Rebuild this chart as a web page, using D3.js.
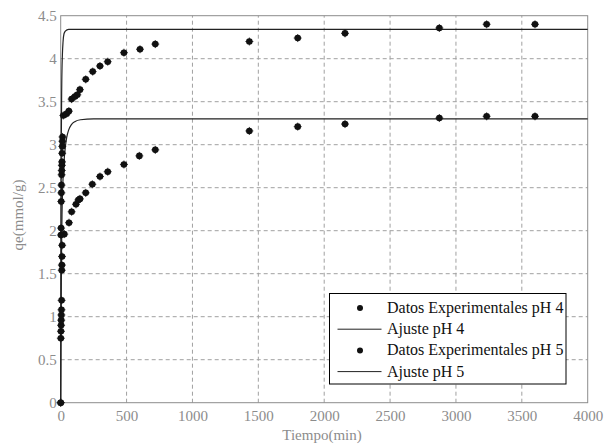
<!DOCTYPE html>
<html>
<head>
<meta charset="utf-8">
<script src="https://cdn.jsdelivr.net/npm/d3@7"></script>
<style>
  body { margin: 0; background: #fff; }
  svg { display: block; }
  svg text { font-family: "Liberation Serif", "Times New Roman", Times, "Nimbus Roman", "DejaVu Serif", serif !important; }
</style>
</head>
<body>
<div id="chart"></div>
<script>
// experimental data, [time (min), qe (mmol/g)]
const datosPH4 = [
  [0, 0], [2, 1.95], [3, 2.03], [4, 2.34], [5, 2.44], [6, 2.53], [7, 2.65],
  [8, 2.7], [9, 2.76], [10, 2.8], [11, 2.9], [12, 2.98], [13, 3.04], [14, 3.09],
  [20, 3.34], [45, 3.36], [62, 3.39], [83, 3.53], [108, 3.56], [126, 3.58],
  [146, 3.64], [190, 3.76], [243, 3.85], [298, 3.915], [357, 3.965],
  [480, 4.07], [602, 4.11], [718, 4.17],
  [1432, 4.2], [1799, 4.24], [2158, 4.295], [2874, 4.357], [3233, 4.4], [3600, 4.4]
];
const datosPH5 = [
  [0, 0], [1, 0.75], [2, 0.83], [3, 0.9], [4, 0.96], [5, 1.02], [6, 1.08],
  [7, 1.19], [8, 1.54], [9, 1.6], [10, 1.7], [11, 1.83],
  [27, 1.96], [63, 2.093], [83, 2.22], [116, 2.307], [134, 2.357], [146, 2.37],
  [190, 2.44], [240, 2.54], [298, 2.63], [357, 2.686], [480, 2.77],
  [597, 2.87], [718, 2.94],
  [1432, 3.16], [1799, 3.21], [2158, 3.24], [2874, 3.31], [3233, 3.33], [3600, 3.33]
];
// fitted curves
const ajustePH4 = [
  [0, 0], [2, 1.8], [4, 2.9], [8, 3.7], [13, 4.05], [18, 4.2], [25, 4.29],
  [35, 4.32], [60, 4.34], [4000, 4.34]
];
const ajustePH5 = [
  [0, 0], [3, 1.0], [6, 1.7], [10, 2.2], [15, 2.5], [25, 2.8], [35, 2.97],
  [45, 3.08], [60, 3.17], [80, 3.23], [110, 3.27], [150, 3.29], [250, 3.3], [4000, 3.3]
];
const xTicks = [0, 500, 1000, 1500, 2000, 2500, 3000, 3500, 4000];
const yTicks = [0, 0.5, 1, 1.5, 2, 2.5, 3, 3.5, 4, 4.5];
const legendLabels = [
  "Datos Experimentales pH 4", "Ajuste pH 4",
  "Datos Experimentales pH 5", "Ajuste pH 5"
];

const width = 610, height = 444;
const margin = { top: 15.7, right: 22.3, bottom: 41.3, left: 60.7 };

const svg = d3.select("#chart").append("svg")
  .attr("width", width)
  .attr("height", height);

const x = d3.scaleLinear().domain([0, 4000]).range([margin.left, width - margin.right]);
const y = d3.scaleLinear().domain([0, 4.5]).range([height - margin.bottom, margin.top]);

const grey = "#8c8c8c";

// grid
svg.append("g")
  .selectAll("line")
  .data(xTicks.slice(1, -1))
  .join("line")
  .attr("x1", d => x(d)).attr("x2", d => x(d))
  .attr("y1", y(0)).attr("y2", y(4.5))
  .attr("stroke", "#a0a0a0")
  .attr("stroke-dasharray", "4,3");

svg.append("g")
  .selectAll("line")
  .data(yTicks.slice(1, -1))
  .join("line")
  .attr("x1", x(0)).attr("x2", x(4000))
  .attr("y1", d => y(d)).attr("y2", d => y(d))
  .attr("stroke", "#a0a0a0")
  .attr("stroke-dasharray", "4,3");

// box
svg.append("rect")
  .attr("x", x(0)).attr("y", y(4.5))
  .attr("width", x(4000) - x(0))
  .attr("height", y(0) - y(4.5))
  .attr("fill", "none")
  .attr("stroke", grey);

// axes
const xAxis = svg.append("g")
  .attr("transform", `translate(0,${y(0)})`)
  .call(d3.axisBottom(x).tickValues(xTicks).tickSize(0).tickPadding(8).tickFormat(d3.format("d")));
const yAxis = svg.append("g")
  .attr("transform", `translate(${x(0)},0)`)
  .call(d3.axisLeft(y).tickValues(yTicks).tickSize(0).tickPadding(4).tickFormat(d => d));

[xAxis, yAxis].forEach(a => {
  a.select(".domain").remove();
  a.selectAll("text")
    .attr("fill", grey)
    .style("font-size", "15px");
});

// axis labels
svg.append("text")
  .attr("x", 322).attr("y", 440)
  .attr("text-anchor", "middle")
  .attr("fill", grey)
  .style("font-size", "15px")
  .text("Tiempo(min)");

svg.append("text")
  .attr("transform", "translate(23,215) rotate(-90)")
  .attr("text-anchor", "middle")
  .attr("fill", grey)
  .style("font-size", "15px")
  .text("qe(mmol/g)");

// fitted lines
const line = d3.line().x(d => x(d[0])).y(d => y(d[1])).curve(d3.curveMonotoneX);

[ajustePH4, ajustePH5].forEach(serie => {
  svg.append("path")
    .datum(serie)
    .attr("d", line)
    .attr("fill", "none")
    .attr("stroke", "#222")
    .attr("stroke-width", 1.2);
});

// markers: filled dot with small asterisk spikes
function marker(g, cx, cy) {
  g.append("circle").attr("cx", cx).attr("cy", cy).attr("r", 3.3).attr("fill", "#111");
  g.append("path")
    .attr("d", `M${cx - 4},${cy}h8M${cx},${cy - 4}v8`)
    .attr("stroke", "#111")
    .attr("stroke-width", 0.8);
}

const pts = svg.append("g");
[datosPH4, datosPH5].forEach(serie => {
  serie.forEach(d => marker(pts, x(d[0]), y(d[1])));
});

// legend
const lg = svg.append("g");
lg.append("rect")
  .attr("x", 329.5).attr("y", 293.5)
  .attr("width", 236.5).attr("height", 90.5)
  .attr("fill", "#fff")
  .attr("stroke", "#000");

legendLabels.forEach((label, i) => {
  const cy = 308 + i * 21.2;
  if (i % 2 === 0) {
    lg.append("circle").attr("cx", 360).attr("cy", cy).attr("r", 3).attr("fill", "#111");
  } else {
    lg.append("line")
      .attr("x1", 337.5).attr("x2", 381.5)
      .attr("y1", cy).attr("y2", cy)
      .attr("stroke", "#222");
  }
  lg.append("text")
    .attr("x", 387).attr("y", cy + 5)
    .attr("fill", "#111")
    .style("font-size", "16px")
    .text(label);
});
</script>
</body>
</html>
